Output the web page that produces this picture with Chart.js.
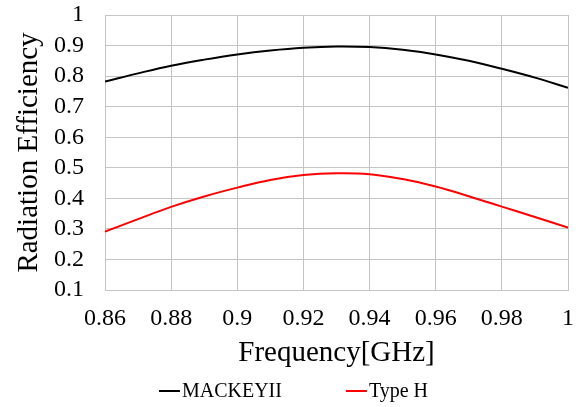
<!DOCTYPE html>
<html>
<head>
<meta charset="utf-8">
<script src="https://cdn.jsdelivr.net/npm/chart.js@4"></script>
<style>
	html, body { margin: 0; padding: 0; background: #fff; }
	#wrap { width: 587px; height: 407px; }
</style>
</head>
<body>
<div id="wrap"><canvas id="chart-efficiency"></canvas></div>
<script>
// Chart data
const FREQS = [0.86, 0.87, 0.88, 0.89, 0.9, 0.91, 0.92, 0.93, 0.94, 0.95, 0.96, 0.97, 0.98, 0.99, 1.0];
const MACKEY = [0.782, 0.809, 0.834, 0.854, 0.871, 0.884, 0.893, 0.897, 0.895, 0.886, 0.871, 0.85, 0.824, 0.795, 0.762];
const TYPE_H = [0.291, 0.332, 0.372, 0.406, 0.435, 0.46, 0.476, 0.482, 0.479, 0.463, 0.439, 0.407, 0.373, 0.339, 0.304];
const SERIES_NAMES = ["MACKEYII", "Type H"];
const X_TITLE = "Frequency[GHz]";
const Y_TITLE = "Radiation Efficiency";

const FONT = "'Liberation Serif', 'Times New Roman', serif";
const GRID_COLOR = "#c4c4c4";

const toPoints = (vals) => FREQS.map((f, i) => ({ x: f, y: vals[i] }));
const fmt = (v) => String(+v.toFixed(2));

// Legend drawn below the axis title, line then text
const bottomLegend = {
	id: "bottomLegend",
	afterDraw(chart) {
		const { ctx } = chart;
		const items = chart.data.datasets;
		const lineW = 21;
		const gap = 64;
		ctx.save();
		ctx.font = "20px " + FONT;
		ctx.textBaseline = "middle";
		const widths = items.map((d) => lineW + 2 + ctx.measureText(d.label).width);
		const total = widths.reduce((a, b) => a + b, 0) + gap * (items.length - 1);
		let x = (chart.width - total) / 2;
		const y = 391;
		items.forEach((d, i) => {
			ctx.strokeStyle = d.borderColor;
			ctx.lineWidth = 2;
			ctx.beginPath();
			ctx.moveTo(x, y);
			ctx.lineTo(x + lineW, y);
			ctx.stroke();
			ctx.fillStyle = "#000";
			ctx.fillText(d.label, x + lineW + 2, y + 1);
			x += widths[i] + gap;
		});
		ctx.restore();
	},
};

const CONFIG = {
	type: "line",
	data: {
		datasets: [
			{
				label: SERIES_NAMES[0],
				data: toPoints(MACKEY),
				borderColor: "#000000",
				backgroundColor: "#000000",
				borderWidth: 2,
				pointRadius: 0,
				tension: 0.4,
			},
			{
				label: SERIES_NAMES[1],
				data: toPoints(TYPE_H),
				borderColor: "#ff0000",
				backgroundColor: "#ff0000",
				borderWidth: 2,
				pointRadius: 0,
				tension: 0.4,
			},
		],
	},
	options: {
		responsive: true,
		maintainAspectRatio: false,
		animation: false,
		layout: {
			padding: { top: 0, right: 0, left: 0, bottom: 35 },
		},
		plugins: {
			legend: { display: false },
			tooltip: { enabled: false },
		},
		scales: {
			x: {
				type: "linear",
				min: 0.86,
				max: 1,
				border: { display: true, color: GRID_COLOR, width: 1 },
				grid: { color: GRID_COLOR, drawTicks: false, lineWidth: 1 },
				ticks: {
					stepSize: 0.02,
					padding: 14,
					color: "#000",
					font: { family: FONT, size: 24 },
					maxRotation: 0,
					autoSkip: false,
					callback: (v) => fmt(v),
				},
				title: {
					display: true,
					text: X_TITLE,
					color: "#000",
					font: { family: FONT, size: 29 },
					padding: { top: 0, bottom: 1 },
				},
				afterFit: (s) => {
					s.height = 82;
					s.paddingLeft = 0;
					s.paddingRight = 19;
				},
			},
			y: {
				min: 0.1,
				max: 1,
				border: { display: true, color: GRID_COLOR, width: 1 },
				grid: { color: GRID_COLOR, drawTicks: false, lineWidth: 1 },
				ticks: {
					stepSize: 0.1,
					padding: 21,
					autoSkip: false,
					color: "#000",
					font: { family: FONT, size: 24 },
					callback: (v) => fmt(v),
				},
				title: {
					display: true,
					text: Y_TITLE,
					color: "#000",
					font: { family: FONT, size: 29 },
					padding: { top: 12, bottom: 0 },
				},
				afterFit: (s) => {
					s.width = 105;
					s.paddingTop = 15;
					s.paddingBottom = 0;
				},
			},
		},
	},
	plugins: [bottomLegend],
};

new Chart(document.getElementById("chart-efficiency"), CONFIG);
</script>
</body>
</html>
